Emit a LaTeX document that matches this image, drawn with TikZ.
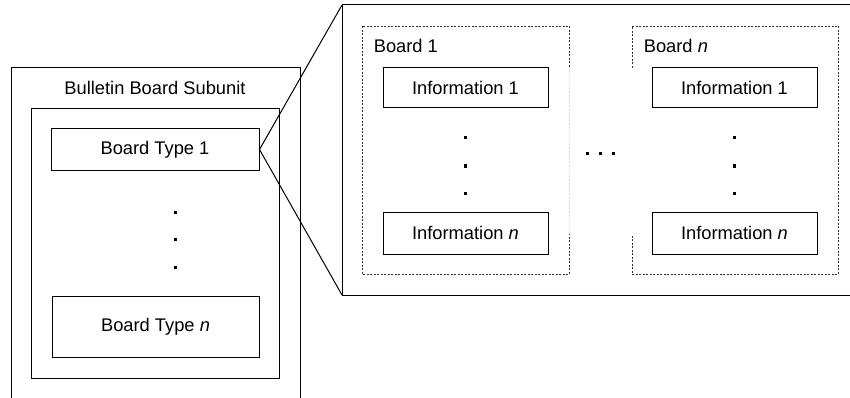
\documentclass[tikz,border=0pt]{standalone}
\usepackage{fontspec}
\setmainfont{Liberation Sans}
\begin{document}
\begin{tikzpicture}[x=1pt,y=-1pt,
  line width=1pt,
  every node/.style={font=\fontsize{18.3}{22}\selectfont},
  box/.style={draw, rectangle, inner sep=0pt},
  dashedge/.style={dash pattern=on 2pt off 1.5pt, line width=0.9pt, draw=black!80},
  faintedge/.style={dash pattern=on 2pt off 1.5pt, line width=0.9pt, draw=black!15},
  dotsq/.style={fill=black}
]
\useasboundingbox (0,0) rectangle (850,398);
% left outer frame (open bottom)
\draw (11,398) -- (11,68) -- (300,68) -- (300,398);
\node (title) at (155,88) {Bulletin Board Subunit};
\node[box, minimum width=248pt, minimum height=269pt] (inner) at (155,243.5) {};
\node[box, minimum width=208pt, minimum height=41pt] (bt1) at (155,149.5) {Board Type 1};
\node[box, minimum width=207pt, minimum height=61pt] (btn) at (155.5,326.5) {Board Type \emph{n}};
\foreach \yy in {212,239,267} \fill[dotsq] (173.5,\yy-1.5) rectangle ++(3,3);
% right detail frame (open right)
\coordinate (ztop) at (342,5);
\coordinate (zbot) at (342,295);
\draw (850,5) -- (ztop) -- (zbot) -- (850,295);
\draw (bt1.east) -- (ztop);
\draw (bt1.east) -- (zbot);
% Board 1
\draw[dashedge] (569,67) -- (569,26) -- (362,26) -- (362,274) -- (569,274) -- (569,234);
\draw[faintedge] (569,67) -- (569,234);
\node[anchor=west] (b1) at (370,46) {Board 1};
\node[box, minimum width=165pt, minimum height=40pt] (i11) at (465.5,88) {Information 1};
\node[box, minimum width=165pt, minimum height=42pt] (i1n) at (465.5,233) {Information \emph{n}};
\foreach \yy in {138,166,193} \fill[dotsq] (464,\yy-1.5) rectangle ++(3,3);
% Board n
\draw[dashedge] (632,68) -- (632,26) -- (838,26) -- (838,274) -- (632,274) -- (632,234);
\node[anchor=west] (bn) at (640,46) {Board \emph{n}};
\node[box, minimum width=165pt, minimum height=40pt] (in1) at (734.5,88) {Information 1};
\node[box, minimum width=165pt, minimum height=42pt] (inn) at (734.5,233) {Information \emph{n}};
\foreach \yy in {138,166,193} \fill[dotsq] (733,\yy-1.5) rectangle ++(3,3);
% horizontal dots
\foreach \xx in {587,600,613} \fill[dotsq] (\xx-1.5,152.5) rectangle ++(3,3);
\end{tikzpicture}
\end{document}
